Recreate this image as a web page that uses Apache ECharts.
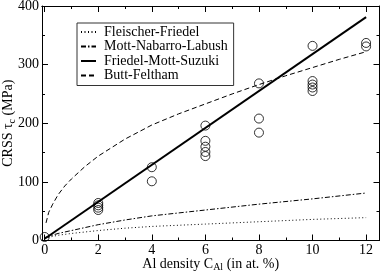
<!DOCTYPE html>
<html>
<head>
<meta charset="utf-8">
<script src="https://cdn.jsdelivr.net/npm/echarts@6/dist/echarts.min.js"></script>
<style>html,body{margin:0;padding:0;background:#fff;}#c{width:382px;height:274px;}</style>
</head>
<body>
<div id="c"></div>
<script>
// ---- data ----
const xTickValues = [0, 2, 4, 6, 8, 10, 12];
const xMinorValues = [1, 3, 5, 7, 9, 11];
const seriesNames = ['Fleischer-Friedel', 'Mott-Nabarro-Labush', 'Friedel-Mott-Suzuki', 'Butt-Feltham'];
const fleischerFriedel = [[0, 4], [0.5, 9], [1, 12], [2, 17], [3, 21], [4, 24], [6, 28], [8, 32], [10, 36], [12, 39]];
const mottNabarroLabush = [[0, 5], [0.5, 12], [1, 17], [2, 27], [3, 35], [4, 42], [6, 52], [8, 62], [10, 71], [12, 81]];
const friedelMottSuzuki = [[0, 3], [12, 381]];
const buttFeltham = [[0.05, 30], [0.15, 48], [0.3, 62], [0.5, 78], [0.75, 93], [1, 105], [1.5, 126], [2, 144], [3, 173], [4, 197], [5, 216], [6, 233], [7, 250], [8, 266], [9, 281], [10, 295], [11, 309], [12, 322]];
const measuredX = [0, 2, 2, 2, 2, 4, 4, 6, 6, 6, 6, 6, 8, 8, 8, 10, 10, 10, 10, 10, 12, 12];
const measuredY = [6, 64, 60, 56, 52, 125, 101, 196, 170, 160, 151, 144, 268, 208, 184, 332, 272, 266, 261, 255, 337, 331];

const FONT = 'Liberation Serif, DejaVu Serif, serif';
const measured = measuredX.map((x, i) => [x, measuredY[i]]);

const axisLine = { show: true, onZero: false, lineStyle: { color: '#000', width: 1 } };
const nameRich = {
  n: { fontFamily: FONT, fontSize: 14, color: '#000' },
  sub: { fontFamily: FONT, fontSize: 10, color: '#000', verticalAlign: 'bottom', padding: [7, 0, 0, 0] }
};
function xAx(pos, values, len, labels) {
  return {
    type: 'value', position: pos, min: -0.1, max: 12.5,
    axisLine: axisLine,
    splitLine: { show: false },
    axisTick: { show: true, inside: true, length: len, customValues: values, lineStyle: { color: '#000' } },
    axisLabel: labels ? { show: true, customValues: values, fontFamily: FONT, fontSize: 14, color: '#000', margin: 3 } : { show: false },
  };
}
const xAxes = [
  Object.assign(xAx('bottom', xTickValues, 6, true), {
    name: '{n|Al density C}{sub|Al}{n| (in at. %)}', nameLocation: 'middle', nameGap: 15, nameMoveOverlap: false,
    nameTextStyle: { fontFamily: FONT, fontSize: 14, color: '#000', rich: nameRich }
  }),
  xAx('bottom', xMinorValues, 3, false),
  xAx('top', xTickValues, 6, false),
  xAx('top', xMinorValues, 3, false),
];
function yAx(pos, labels) {
  return {
    type: 'value', position: pos, min: 0, max: 400, interval: 100,
    axisLine: axisLine,
    splitLine: { show: false },
    axisTick: { show: true, inside: true, length: 6, lineStyle: { color: '#000' } },
    minorTick: { show: true, splitNumber: 2, length: 3, lineStyle: { color: '#000' } },
    minorSplitLine: { show: false },
    axisLabel: labels ? { show: true, fontFamily: FONT, fontSize: 14, color: '#000', margin: 3 } : { show: false },
  };
}
const yAxes = [
  Object.assign(yAx('left', true), {
    name: '{n|CRSS τ}{sub|c}{n| (MPa)}', nameLocation: 'middle', nameGap: 25, nameMoveOverlap: false,
    nameTextStyle: { fontFamily: FONT, fontSize: 14, color: '#000', rich: nameRich }
  }),
  yAx('right', false),
];

function lineSeries(name, data, width, dash) {
  return {
    name: name, type: 'line', data: data, xAxisIndex: 0, yAxisIndex: 0,
    symbol: 'none', smooth: false, animation: false,
    itemStyle: { color: '#000' },
    lineStyle: { color: '#000', width: width, type: dash },
  };
}

const chart = echarts.init(document.getElementById('c'), null, { renderer: 'canvas' });
chart.setOption({
  animation: false,
  backgroundColor: '#fff',
  grid: { left: 42, right: 2.5, top: 6, bottom: 33.5, containLabel: false, outerBoundsMode: 'none' },
  xAxis: xAxes,
  yAxis: yAxes,
  legend: {
    data: seriesNames, orient: 'vertical', left: 77, top: 23,
    padding: [2, 6, 3, 3], itemWidth: 15, itemHeight: 10, itemGap: 0.5,
    borderColor: '#333', borderWidth: 1, backgroundColor: '#fff',
    itemStyle: { color: 'rgba(0,0,0,0)', borderWidth: 0, opacity: 0 },
    textStyle: { fontFamily: FONT, fontSize: 14, color: '#000', lineHeight: 12, padding: [0, 0, 0, 3] },
  },
  series: [
    lineSeries(seriesNames[0], fleischerFriedel, 1, [1, 2.5]),
    lineSeries(seriesNames[1], mottNabarroLabush, 1, [5, 2, 1.5, 2]),
    lineSeries(seriesNames[2], friedelMottSuzuki, 2, 'solid'),
    lineSeries(seriesNames[3], buttFeltham, 1, [5, 3]),
    {
      name: 'measured', type: 'scatter', data: measured, xAxisIndex: 0, yAxisIndex: 0,
      symbol: 'circle', symbolSize: 9,
      itemStyle: { color: 'rgba(255,255,255,0)', borderColor: '#000', borderWidth: 1 },
      z: 3,
    },
  ],
});
</script>
</body>
</html>
